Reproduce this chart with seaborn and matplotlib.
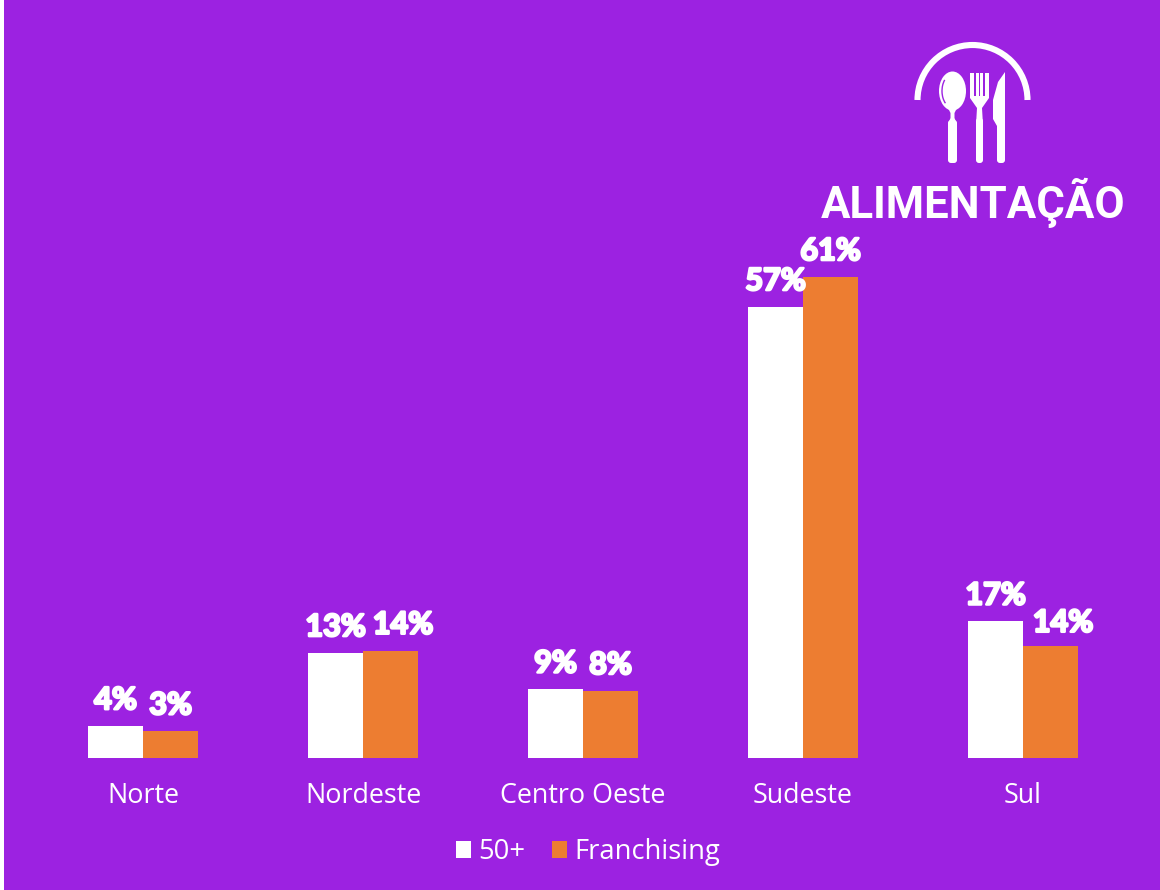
import matplotlib
matplotlib.use("Agg")
import matplotlib.pyplot as plt
import matplotlib.patheffects as pe
from matplotlib.patches import Rectangle, Ellipse, Arc, Polygon, FancyBboxPatch
import pandas as pd
import seaborn as sns

regions = ["Norte", "Nordeste", "Centro Oeste", "Sudeste", "Sul"]
series_names = ["50+", "Franchising"]
values_50 = [4.05, 13.3, 8.7, 57.1, 17.3]
values_fr = [3.4, 13.6, 8.5, 60.9, 14.2]
labels_50 = ["4%", "13%", "9%", "57%", "17%"]
labels_fr = ["3%", "14%", "8%", "61%", "14%"]
title_text = "ALIMENTAÇÃO"

PURPLE = "#9C22E1"
ORANGE = "#ED7D31"
WHITE = "#FFFFFF"
BODY_FONT = "Open Sans"

df = pd.DataFrame({
    "regiao": regions * 2,
    "serie": [series_names[0]] * 5 + [series_names[1]] * 5,
    "valor": values_50 + values_fr,
})

sns.set_theme(style="white")
W, H = 1160, 890
fig = plt.figure(figsize=(W / 100, H / 100), dpi=100, facecolor=WHITE)

# full-figure canvas in pixel coordinates for background and icon
bg = fig.add_axes([0, 0, 1, 1], zorder=0)
bg.set_xlim(0, W)
bg.set_ylim(H, 0)
bg.axis("off")
bg.add_patch(Rectangle((4, 0), W - 4, H, fc=PURPLE, ec="none"))

ax = fig.add_axes([33 / W, (H - 758) / H, 1100 / W, 553 / H], zorder=1)
ax.patch.set_alpha(0)
sns.barplot(data=df, x="regiao", y="valor", hue="serie", order=regions,
            hue_order=series_names, palette=[WHITE, ORANGE], width=0.5, gap=0,
            saturation=1, errorbar=None, ax=ax, linewidth=0)
ax.set_xlim(-0.5, 4.5)
ax.set_ylim(0, 70)
ax.set_xlabel("")
ax.set_ylabel("")
ax.set_yticks([])
sns.despine(ax=ax, left=True, bottom=True)
ax.tick_params(axis="x", length=0, pad=17, labelcolor=WHITE, labelsize=19.4)
for t in ax.get_xticklabels():
    t.set_family(BODY_FONT)

stroke = [pe.withStroke(linewidth=1.8, foreground=WHITE)]
for container, labs in zip(ax.containers, [labels_50, labels_fr]):
    for txt in ax.bar_label(container, labels=labs, padding=8.5, color=WHITE,
                            fontsize=22, fontfamily="Lato", fontweight="bold"):
        txt.set_path_effects(stroke)

# the two "14%" labels sit to the right of their bars in the reference
fr_texts = ax.texts[5:]
for i, (dx, dy) in {1: (9, 0), 4: (9, -2)}.items():
    x0, y0 = fr_texts[i].xyann
    fr_texts[i].xyann = (x0 + dx, y0 + dy)

leg = ax.legend(loc="center", bbox_to_anchor=(588 / W, (H - 852) / H),
                bbox_transform=fig.transFigure, ncol=2, frameon=False,
                prop={"family": BODY_FONT, "size": 19.7},
                handlelength=0.56, handleheight=0.56, handletextpad=0.28,
                columnspacing=0.95, borderpad=0)
for t in leg.get_texts():
    t.set_color(WHITE)

# utensil icon
ic = fig.add_axes([0, 0, 1, 1], zorder=2)
ic.set_xlim(0, W)
ic.set_ylim(H, 0)
ic.axis("off")
ic.add_patch(Arc((972.5, 100), 110, 110, theta1=180, theta2=360, color=WHITE, lw=4.4))


def bar(x0, x1, y0, y1):
    ic.add_patch(FancyBboxPatch((x0 + 2, y0), x1 - x0 - 4, y1 - y0 - 2,
                                boxstyle="round,pad=2,rounding_size=3", fc=WHITE, ec="none"))


# spoon
ic.add_patch(Ellipse((952.5, 91), 27, 39, fc=WHITE, ec="none"))
ic.add_patch(Polygon([(947, 106), (958, 106), (954.5, 113), (954.5, 118), (957, 124),
                      (948, 124), (950.5, 118), (950.5, 113)],
                     fc=WHITE, ec="none"))
bar(948, 957, 122, 163)
ic.add_patch(Arc((952.5, 91), 21, 33, theta1=120, theta2=235, color=PURPLE, lw=1.0))
# fork
ic.add_patch(Polygon([(970, 73), (989, 73), (989, 98), (982, 108), (983, 125), (976, 125), (977, 108), (970, 98)],
                     fc=WHITE, ec="none"))
for sx in (975, 979.5, 984):
    ic.add_patch(Rectangle((sx - 0.6, 72), 1.3, 24, fc=PURPLE, ec="none"))
bar(976, 983, 120, 163)
# knife
ic.add_patch(Polygon([(1005, 72), (1005, 150), (997, 150), (997, 126), (993, 119), (993, 100), (998, 82)],
                     fc=WHITE, ec="none"))
bar(997, 1005, 130, 163)

ic.text(973, 218, title_text, color=WHITE, fontsize=31.5, fontweight="bold",
        fontfamily="Roboto", ha="center", va="baseline")

fig.savefig("out.png", dpi=100, facecolor=WHITE)
